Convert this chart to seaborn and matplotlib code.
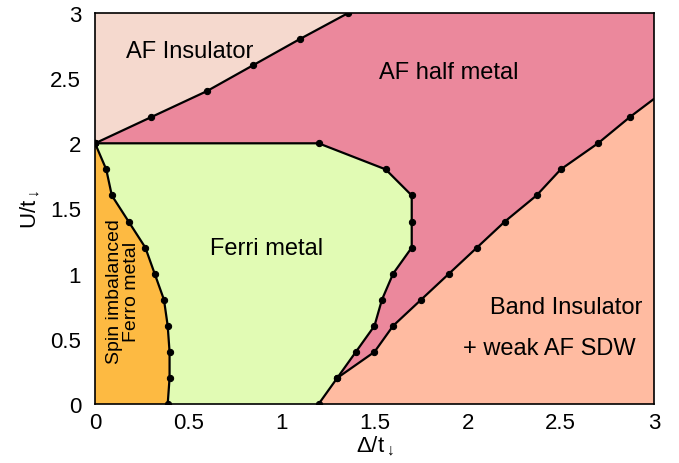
import matplotlib
matplotlib.use("Agg")
import matplotlib.pyplot as plt
import seaborn as sns
import numpy as np
import pandas as pd

sns.set_theme(style="white")
plt.rcParams["font.family"] = ["Liberation Sans", "DejaVu Sans"]
plt.rcParams["mathtext.fontset"] = "custom"
plt.rcParams["mathtext.rm"] = "Liberation Sans"
plt.rcParams["mathtext.it"] = "Liberation Sans"
plt.rcParams["text.color"] = "black"
plt.rcParams["axes.labelcolor"] = "black"
plt.rcParams["xtick.color"] = "black"
plt.rcParams["ytick.color"] = "black"

# Phase boundaries (Delta/t_down, U/t_down)
af_ins_x = [0.0, 0.3, 0.6, 0.85, 1.1, 1.36]
af_ins_y = [2.0, 2.2, 2.4, 2.6, 2.8, 3.0]

ferri_x = [0.0, 1.2, 1.56, 1.7, 1.7, 1.7, 1.6, 1.54, 1.5, 1.4, 1.3, 1.2]
ferri_y = [2.0, 2.0, 1.8, 1.6, 1.4, 1.2, 1.0, 0.8, 0.6, 0.4, 0.2, 0.0]

ferro_x = [0.0, 0.06, 0.09, 0.18, 0.27, 0.32, 0.37, 0.39, 0.4, 0.4, 0.39]
ferro_y = [2.0, 1.8, 1.6, 1.4, 1.2, 1.0, 0.8, 0.6, 0.4, 0.2, 0.0]

band_x = [1.3, 1.5, 1.6, 1.75, 1.9, 2.05, 2.2, 2.37, 2.5, 2.7, 2.87]
band_y = [0.2, 0.4, 0.6, 0.8, 1.0, 1.2, 1.4, 1.6, 1.8, 2.0, 2.2]
band_edge_y = 2.34  # where the band boundary meets the right frame

x_ticks = [0, 0.5, 1, 1.5, 2, 2.5, 3]
y_ticks = [0, 0.5, 1, 1.5, 2, 2.5, 3]

c_half = "#EB889C"
c_afins = "#F5D9CE"
c_ferri = "#E1FBB4"
c_ferro = "#FDBA42"
c_band = "#FFBBA1"

fig = plt.figure(figsize=(6.79, 4.64), dpi=100)
ax = fig.add_axes([0.140, 0.127, 0.823, 0.843])
ax.set_xlim(0, 3)
ax.set_ylim(0, 3)
ax.set_facecolor(c_half)

# Region fills
ax.fill(af_ins_x + [0.0], af_ins_y + [3.0], color=c_afins, lw=0, zorder=1)
ax.fill([1.2] + band_x + [3.0, 3.0], [0.0] + band_y + [band_edge_y, 0.0],
        color=c_band, lw=0, zorder=1)
ax.fill(ferri_x + ferro_x[::-1], ferri_y + ferro_y[::-1], color=c_ferri, lw=0, zorder=1)
ax.fill(ferro_x + [0.0], ferro_y + [0.0], color=c_ferro, lw=0, zorder=1)

# Boundary lines with data points
line_kw = dict(color="black", lw=1.6, marker="o", ms=4.5, markeredgecolor="black",
               markerfacecolor="black", zorder=3)
for bx, by in [(af_ins_x, af_ins_y), (ferri_x, ferri_y), (ferro_x, ferro_y), (band_x, band_y)]:
    sns.lineplot(x=bx, y=by, sort=False, ax=ax, estimator=None, **line_kw)
ax.plot([band_x[-1], 3.0], [band_y[-1], band_edge_y], color="black", lw=1.6, zorder=3)

fs = 17
ax.text(0.51, 2.71, "AF Insulator", fontsize=fs, ha="center", va="center", zorder=4)
ax.text(1.9, 2.55, "AF half metal", fontsize=fs, ha="center", va="center", zorder=4)
ax.text(0.92, 1.2, "Ferri metal", fontsize=fs, ha="center", va="center", zorder=4)
ax.text(2.53, 0.745, "Band Insulator", fontsize=fs, ha="center", va="center", zorder=4)
ax.text(2.44, 0.43, "+ weak AF SDW", fontsize=fs, ha="center", va="center", zorder=4)
ax.text(0.15, 0.87, "Spin imbalanced\nFerro metal", fontsize=14, ha="center", va="center",
        rotation=90, linespacing=1.0, zorder=4)

ax.set_xticks(x_ticks)
ax.set_yticks(y_ticks)
ax.set_xticklabels([f"{t:g}" for t in x_ticks], fontsize=16)
ax.set_yticklabels([f"{t:g}" for t in y_ticks], fontsize=16)
ax.tick_params(axis="x", length=0, pad=6)
ax.tick_params(axis="y", length=0, pad=10)
ax.set_xlabel(r"$\Delta/\mathrm{t}_{\downarrow}$", fontsize=16, labelpad=0)
ax.set_ylabel(r"$\mathrm{U/t}_{\downarrow}$", fontsize=16, labelpad=6)
for s in ax.spines.values():
    s.set_color("black")
    s.set_linewidth(1.2)
    s.set_zorder(5)

fig.savefig("out.png", dpi=100)
